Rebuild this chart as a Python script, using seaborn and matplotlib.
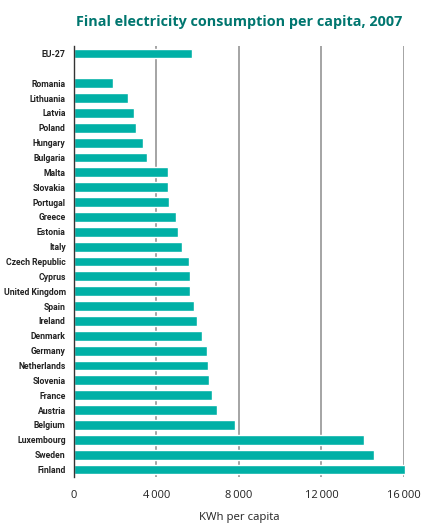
import matplotlib.pyplot as plt
import pandas as pd
import seaborn as sns

# Data (kWh per capita, 2007)
countries = ['EU-27', 'Romania', 'Lithuania', 'Latvia', 'Poland', 'Hungary', 'Bulgaria',
             'Malta', 'Slovakia', 'Portugal', 'Greece', 'Estonia', 'Italy',
             'Czech Republic', 'Cyprus', 'United Kingdom', 'Spain', 'Ireland',
             'Denmark', 'Germany', 'Netherlands', 'Slovenia', 'France', 'Austria',
             'Belgium', 'Luxembourg', 'Sweden', 'Finland']
kwh = [5720, 1890, 2620, 2910, 3000, 3350, 3540,
       4540, 4550, 4600, 4930, 5030, 5240,
       5570, 5620, 5620, 5820, 5960,
       6210, 6450, 6500, 6550, 6690, 6930,
       7800, 14060, 14550, 16050]
xticks = [0, 4000, 8000, 12000, 16000]
xtick_labels = ['0', '4\u2009000', '8\u2009000', '12\u2009000', '16\u2009000']

df = pd.DataFrame({'country': countries, 'kwh': kwh})
# blank slot between EU-27 and the countries
order = ['EU-27', ' '] + countries[1:]

sns.set_style('white')
plt.rcParams['font.family'] = ['Open Sans', 'DejaVu Sans']

fig = plt.figure(figsize=(4.31, 5.30), dpi=100)
ax = fig.add_axes([74 / 431, 1 - 477 / 530, 330 / 431, 431 / 530])

sns.barplot(data=df, x='kwh', y='country', order=order, orient='h',
            color='#00b0a6', saturation=1, width=0.66, ax=ax, zorder=3)
for p in ax.patches:
    p.set_clip_on(False)

ax.set_xlim(0, 16000)
ax.set_ylim(len(order) - 0.5, -0.5)

# vertical gridlines
for xv in xticks[1:]:
    ax.axvline(xv, color='#959595', lw=1.2, zorder=1)

for side in ['top', 'right', 'bottom']:
    ax.spines[side].set_visible(False)
ax.spines['left'].set_color('#333333')
ax.spines['left'].set_linewidth(1)
ax.spines['left'].set_zorder(4)

ax.set_xticks(xticks)
ax.set_xticklabels(xtick_labels, fontsize=8, color='#222222')
ax.tick_params(axis='x', length=0, pad=9)

# y labels at centres, tick marks at the boundaries
ax.set_yticks(range(len(order)))
ax.set_yticklabels(order, fontsize=6.2, color='#222222',
                   family=['DejaVu Sans Condensed', 'Roboto'], fontweight='bold')
ax.tick_params(axis='y', which='major', length=0, pad=6)
ax.set_yticks([i - 0.5 for i in range(len(order) + 1)], minor=True)
ax.tick_params(axis='y', which='minor', length=3, width=1, color='#333333')

ax.set_ylabel('')
ax.set_xlabel('KWh per capita', fontsize=8.2, color='#222222', labelpad=8)

fig.text(239 / 431, 1 - 22 / 530, 'Final electricity consumption per capita, 2007',
         ha='center', va='center', fontsize=10.4, fontweight='bold', color='#00766f')

fig.savefig('out.png', dpi=100)
